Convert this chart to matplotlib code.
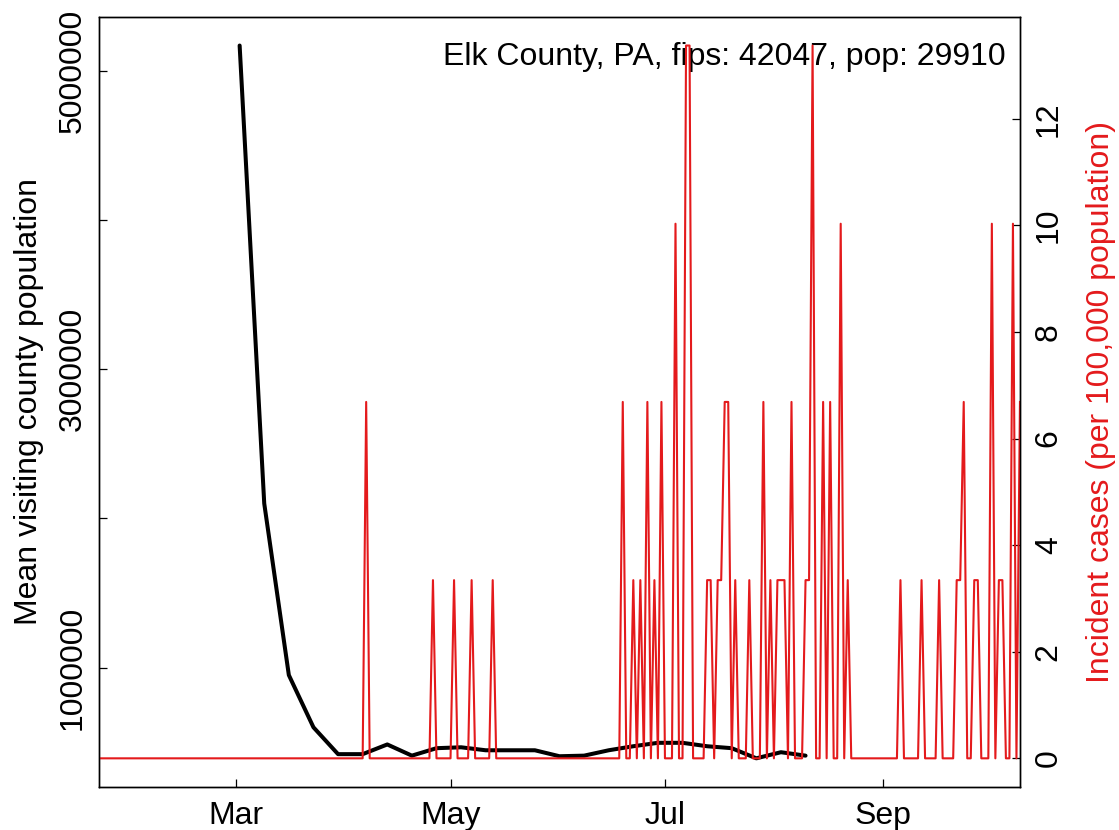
import matplotlib
matplotlib.use("Agg")
import matplotlib.pyplot as plt
import matplotlib.dates as mdates
import pandas as pd

plt.rcParams['font.family'] = ['Liberation Sans', 'DejaVu Sans']

# County info
county = "Elk County, PA"
fips = 42047
pop = 29910

# Weekly mean visiting county population
visit_dates = pd.date_range("2020-03-02", periods=24, freq="7D")
visit_pop = [5170000, 2100000, 950000, 600000, 420000, 420000, 485000, 410000,
             460000, 466000, 446000, 446000, 446000, 406000, 410000, 446000,
             473000, 496000, 496000, 473000, 460000, 392000, 433000, 410000]

# Daily new cases (only days with cases, all other days are 0)
case_start = "2020-01-22"
case_end = "2020-10-10"
case_days = ["2020-04-07",
             "2020-04-26", "2020-05-02", "2020-05-07", "2020-05-13",
             "2020-06-19", "2020-06-22", "2020-06-24", "2020-06-26", "2020-06-28",
             "2020-06-30", "2020-07-04", "2020-07-07", "2020-07-08", "2020-07-13",
             "2020-07-14", "2020-07-16", "2020-07-17", "2020-07-18", "2020-07-19",
             "2020-07-21", "2020-07-25", "2020-07-29", "2020-07-31", "2020-08-02",
             "2020-08-03", "2020-08-04", "2020-08-06", "2020-08-10", "2020-08-11",
             "2020-08-12", "2020-08-15", "2020-08-17", "2020-08-20", "2020-08-22",
             "2020-09-06", "2020-09-12", "2020-09-17", "2020-09-22", "2020-09-23",
             "2020-09-24", "2020-09-27", "2020-09-28", "2020-10-02", "2020-10-04",
             "2020-10-05", "2020-10-08", "2020-10-10"]
case_counts = [2,
               1, 1, 1, 1,
               2, 1, 1, 2, 1,
               2, 3, 4, 4, 1,
               1, 1, 1, 2, 2,
               1, 1, 2, 1, 1,
               1, 1, 2, 1, 1,
               4, 2, 2, 3, 1,
               1, 1, 1, 1, 1,
               2, 1, 1, 3, 1,
               1, 3, 2]

# Build the daily series and convert to per 100,000
cases = pd.Series(case_counts, index=pd.to_datetime(case_days))
cases = cases.reindex(pd.date_range(case_start, case_end, freq="D"), fill_value=0)
incidence = cases / pop * 100000

fs = 23

fig, ax = plt.subplots(figsize=(11.19, 8.30), dpi=100)
fig.subplots_adjust(left=0.0885, right=0.9115, bottom=0.052, top=0.9795)

ax.plot(visit_dates, visit_pop, color='black', lw=2.9, solid_capstyle='round',
        solid_joinstyle='round')
ax.set_ymargin(0.04)
ax.set_xlim(incidence.index[0], incidence.index[-1])
ax.set_yticks([1000000, 2000000, 3000000, 4000000, 5000000])
ax.set_yticklabels(["1000000", "", "3000000", "", "5000000"])
ax.set_ylabel("Mean visiting county population", fontsize=fs, labelpad=10)

ax.xaxis.set_major_locator(mdates.MonthLocator(bymonth=[3, 5, 7, 9]))
ax.xaxis.set_major_formatter(mdates.DateFormatter("%b"))

ax2 = ax.twinx()
ax2.plot(incidence.index, incidence.values, color='#E41A1C', lw=1.5)
ax2.set_ymargin(0.04)
ax2.set_xlim(incidence.index[0], incidence.index[-1])
ax2.set_yticks([0, 2, 4, 6, 8, 10, 12])
ax2.set_ylabel("Incident cases (per 100,000 population)", color='#E41A1C',
               fontsize=fs, labelpad=16)

for a in (ax, ax2):
    a.tick_params(direction='in', length=6, width=0.9, labelsize=fs, pad=10)
    for s in a.spines.values():
        s.set_linewidth(1.0)
ax.tick_params(axis='y', labelrotation=90, pad=8)
ax2.tick_params(axis='y', labelrotation=90)
for lab in ax.get_yticklabels() + ax2.get_yticklabels():
    lab.set_verticalalignment('center')

ax.text(0.984, 0.948, f"{county}, fips: {fips}, pop: {pop}",
        transform=ax.transAxes, ha='right', va='center', fontsize=fs)

fig.savefig("out.png", dpi=100)
